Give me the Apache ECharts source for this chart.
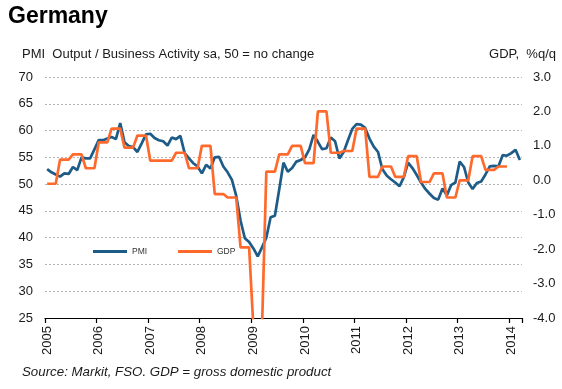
<!DOCTYPE html>
<html>
<head>
<meta charset="utf-8">
<script src="https://cdn.jsdelivr.net/npm/echarts@6/dist/echarts.min.js"></script>
<style>
html,body{margin:0;padding:0;background:#fff;}
#chart{width:562px;height:389px;}
</style>
</head>
<body>
<div id="chart"></div>
<script>
// ---- data ----
const years = [2005, 2006, 2007, 2008, 2009, 2010, 2011, 2012, 2013, 2014];
const monthsInLastYear = 3;
// PMI, monthly
const pmi2005 = [52.8, 52.2, 51.8, 51.4, 52.0, 51.9, 53.2, 52.6, 55.0, 54.8, 54.8, 56.5];
const pmi2006 = [58.2, 58.2, 58.5, 58.8, 58.4, 61.4, 57.8, 57.1, 56.9, 56.0, 57.6, 59.3];
const pmi2007 = [59.4, 58.6, 58.2, 58.0, 57.2, 58.7, 58.4, 59.0, 55.8, 54.8, 53.9, 53.3];
const pmi2008 = [52.0, 53.6, 52.9, 55.0, 55.1, 53.3, 52.2, 50.8, 47.8, 43.2, 39.9, 39.2];
const pmi2009 = [38.0, 36.5, 38.2, 40.0, 43.8, 44.1, 49.0, 54.0, 52.3, 53.0, 54.2, 54.5];
const pmi2010 = [55.0, 56.5, 59.2, 57.9, 56.5, 56.7, 58.7, 58.0, 54.8, 56.0, 58.2, 60.3];
const pmi2011 = [61.2, 61.1, 60.5, 58.5, 57.0, 56.0, 52.8, 51.6, 50.9, 50.3, 49.6, 51.3];
const pmi2012 = [54.0, 53.0, 51.7, 50.3, 49.1, 48.2, 47.4, 47.1, 49.2, 47.9, 49.8, 50.3];
const pmi2013 = [54.2, 53.2, 50.3, 49.1, 50.2, 50.5, 51.8, 53.3, 53.4, 53.3, 55.4, 55.3];
const pmi2014 = [55.8, 56.4, 54.5];
// GDP, % q/q, quarterly
const gdp2005 = [-0.1, 0.6, 0.75, 0.35];
const gdp2006 = [1.1, 1.5, 0.95, 1.3];
const gdp2007 = [0.57, 0.57, 0.8, 0.35];
const gdp2008 = [1.0, -0.4, -0.5, -1.95];
const gdp2009 = [-4.3, 0.25, 0.75, 1.0];
const gdp2010 = [0.5, 2.0, 0.8, 0.85];
const gdp2011 = [1.5, 0.1, 0.4, 0.1];
const gdp2012 = [0.7, -0.05, 0.2, -0.5];
const gdp2013 = [0.0, 0.7, 0.3, 0.4];
// axis ticks
const leftTicks = {min: 25, max: 70, interval: 5};
const rightTicks = {min: -4, max: 3, interval: 1};

// ---- build ----
const categories = [];
years.forEach(function (y) {
  const n = (y === years[years.length - 1]) ? monthsInLastYear : 12;
  for (let m = 1; m <= n; m++) categories.push(y + '-' + (m < 10 ? '0' + m : m));
});
const pmi = [].concat(pmi2005, pmi2006, pmi2007, pmi2008, pmi2009, pmi2010, pmi2011, pmi2012, pmi2013, pmi2014);
const gdpQ = [].concat(gdp2005, gdp2006, gdp2007, gdp2008, gdp2009, gdp2010, gdp2011, gdp2012, gdp2013);
const gdp = [];
gdpQ.forEach(function (v) { gdp.push(v, v, v); });
while (gdp.length < categories.length) gdp.push(null);

const FONT = 'Liberation Sans, Arial, sans-serif';
const TXT = '#1a1a1a';
const chart = echarts.init(document.getElementById('chart'), null, {renderer: 'canvas'});
chart.setOption({
  animation: false,
  backgroundColor: '#ffffff',
  grid: {left: 45, right: 40, top: 77, bottom: 71, containLabel: false},
  legend: [
    {data: [{name: 'PMI', icon: 'rect'}], left: 93, top: 247, padding: 0, itemWidth: 34, itemHeight: 3,
     textStyle: {fontSize: 8.5, color: '#333', fontFamily: FONT}, selectedMode: false},
    {data: [{name: 'GDP', icon: 'rect'}], left: 178, top: 247, padding: 0, itemWidth: 34, itemHeight: 3,
     textStyle: {fontSize: 8.5, color: '#333', fontFamily: FONT}, selectedMode: false}
  ],
  xAxis: {
    type: 'category',
    data: categories,
    boundaryGap: true,
    axisLine: {show: true, onZero: false, lineStyle: {color: '#000', width: 1.2}},
    axisTick: {show: true, interval: function (i) { return i % 12 === 0; }, length: 5, inside: false,
               lineStyle: {color: '#000', width: 1.2}},
    axisLabel: {interval: function (i) { return i % 12 === 0; }, rotate: 90, margin: 8,
                formatter: function (v) { return v.slice(0, 4); },
                fontSize: 13, color: TXT, fontFamily: FONT},
    splitLine: {show: false}
  },
  yAxis: [
    {type: 'value', min: leftTicks.min, max: leftTicks.max, interval: leftTicks.interval, position: 'left',
     axisLine: {show: false}, axisTick: {show: false},
     axisLabel: {margin: 12, fontSize: 13, color: TXT, fontFamily: FONT},
     splitLine: {show: true, lineStyle: {color: '#b4b4b4', width: 1, type: [2, 2]}}},
    {type: 'value', min: rightTicks.min, max: rightTicks.max, interval: rightTicks.interval, position: 'right',
     axisLine: {show: false}, axisTick: {show: false},
     axisLabel: {margin: 11, fontSize: 13, color: TXT, fontFamily: FONT,
                 formatter: function (v) { return v.toFixed(1); }},
     splitLine: {show: false}}
  ],
  series: [
    {name: 'PMI', type: 'line', data: pmi, yAxisIndex: 0, showSymbol: false, symbol: 'none',
     lineStyle: {color: '#1e5c88', width: 2.7}, itemStyle: {color: '#1e5c88'}, z: 3},
    {name: 'GDP', type: 'line', data: gdp, yAxisIndex: 1, showSymbol: false, symbol: 'none', connectNulls: false,
     lineStyle: {color: '#ff6a2c', width: 2.7}, itemStyle: {color: '#ff6a2c'}, z: 4}
  ],
  graphic: [
    {type: 'text', left: 8, top: 5, style: {text: 'Germany', font: 'bold 23px ' + FONT, fill: '#000'}},
    {type: 'text', x: 22, y: 54, style: {text: 'PMI  Output / Business Activity sa, 50 = no change',
      font: '13px ' + FONT, fill: TXT, textAlign: 'left', textVerticalAlign: 'middle', verticalAlign: 'middle'}},
    {type: 'text', x: 556, y: 54, style: {text: 'GDP,  %q/q', font: '13px ' + FONT, fill: TXT,
      textAlign: 'right', align: 'right', textVerticalAlign: 'middle', verticalAlign: 'middle'}},
    {type: 'text', x: 22, y: 372, style: {text: 'Source: Markit, FSO. GDP = gross domestic product',
      font: 'italic 13.3px ' + FONT, fill: TXT, textAlign: 'left', textVerticalAlign: 'middle', verticalAlign: 'middle'}}
  ]
});
</script>
</body>
</html>
